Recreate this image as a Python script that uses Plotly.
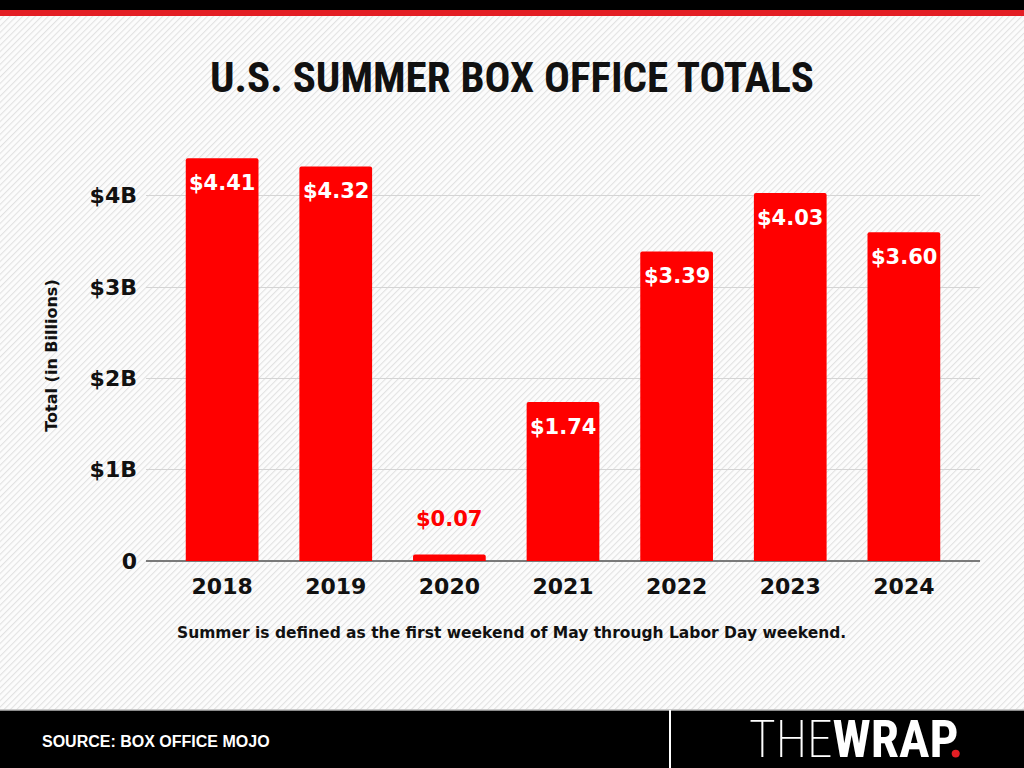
"""U.S. summer box office totals, TheWrap style bar chart"""

import base64
import plotly.graph_objects as go

# data
years = ["2018", "2019", "2020", "2021", "2022", "2023", "2024"]
totals = [4.41, 4.32, 0.07, 1.74, 3.39, 4.03, 3.60]
labels = ["$4.41", "$4.32", "$0.07", "$1.74", "$3.39", "$4.03", "$3.60"]
tick_vals = [0, 1, 2, 3, 4]
tick_text = ["0", "$1B", "$2B", "$3B", "$4B"]

TITLE = "U.S. SUMMER BOX OFFICE TOTALS"
NOTE = "Summer is defined as the first weekend of May through Labor Day weekend."
SOURCE = "SOURCE: BOX OFFICE MOJO"

RED = "#ff0000"
W, H = 1024, 768
M_L, M_R, M_T, M_B = 146, 44, 150, 207
PLOT_W = W - M_L - M_R
PLOT_H = H - M_T - M_B
NARROW = "Roboto Condensed, Liberation Sans Narrow, DejaVu Sans Condensed"


def px_x(x):
    """Page pixel -> paper x"""
    return (x - M_L) / PLOT_W


def px_y(y):
    """Page pixel -> paper y"""
    return (H - M_B - y) / PLOT_H


# striped background as an inline svg
svg = (
    '<svg xmlns="http://www.w3.org/2000/svg" width="1024" height="768">'
    '<defs><pattern id="p" width="4.5" height="4.5" patternUnits="userSpaceOnUse" '
    'patternTransform="rotate(45)"><rect width="4.5" height="4.5" fill="#fcfcfc"/>'
    '<line x1="0" y1="0" x2="0" y2="4.5" stroke="#e2e2e2" stroke-width="2.2"/>'
    '</pattern></defs><rect width="1024" height="768" fill="url(#p)"/></svg>'
)
bg_src = "data:image/svg+xml;base64," + base64.b64encode(svg.encode()).decode()

fig = go.Figure(go.Bar(
    x=years,
    y=totals,
    width=0.64,
    marker=dict(color=RED, line=dict(width=0), cornerradius=2),
    hoverinfo="skip",
))

# value labels: inside top of the bar, or above it (in red) when too short
# (category axis -> annotations take the category index)
for i, (val, lab) in enumerate(zip(totals, labels)):
    inside = val > 0.5
    fig.add_annotation(
        x=i, y=val, text=lab, showarrow=False,
        yanchor="top" if inside else "bottom",
        yshift=-11 if inside else 22,
        font=dict(family="DejaVu Sans", size=21, weight="bold",
                  color="white" if inside else RED),
    )

# title, note, footer texts
fig.add_annotation(
    x=px_x(512), y=px_y(77), xref="paper", yref="paper", xanchor="center",
    yanchor="middle", showarrow=False, text=TITLE,
    font=dict(family=NARROW, size=43, weight="bold", color="#111111"),
)
fig.add_annotation(
    x=px_x(511), y=px_y(633), xref="paper", yref="paper", xanchor="center",
    yanchor="middle", showarrow=False, text=NOTE,
    font=dict(family="DejaVu Sans", size=15.5, weight="bold", color="#111111"),
)
fig.add_annotation(
    x=px_x(40), y=px_y(741), xref="paper", yref="paper", xanchor="left",
    yanchor="middle", showarrow=False, text=SOURCE,
    font=dict(family="Liberation Sans", size=16, weight="bold", color="white"),
)
fig.add_annotation(
    x=px_x(747), y=px_y(739), xref="paper", yref="paper", xanchor="left",
    yanchor="middle", showarrow=False,
    text=("<span style='font-weight:200'>THE</span><b>WRAP</b>"
          "<span style='color:#e31e24'><b>.</b></span>"),
    font=dict(family=NARROW, size=51, color="white"),
)

# page decorations: top bars and footer
fig.add_shape(type="rect", xref="paper", yref="paper", layer="above",
              x0=px_x(0), x1=px_x(W), y0=px_y(0), y1=px_y(10),
              fillcolor="black", line=dict(width=0))
fig.add_shape(type="rect", xref="paper", yref="paper", layer="above",
              x0=px_x(0), x1=px_x(W), y0=px_y(10), y1=px_y(16),
              fillcolor="#e31e24", line=dict(width=0))
fig.add_shape(type="rect", xref="paper", yref="paper", layer="above",
              x0=px_x(0), x1=px_x(W), y0=px_y(710), y1=px_y(H),
              fillcolor="black", line=dict(width=0))
fig.add_shape(type="line", xref="paper", yref="paper", layer="above",
              x0=px_x(0), x1=px_x(W), y0=px_y(710), y1=px_y(710),
              line=dict(color="#bbbbbb", width=1.5))
fig.add_shape(type="line", xref="paper", yref="paper", layer="above",
              x0=px_x(670), x1=px_x(670), y0=px_y(710), y1=px_y(H),
              line=dict(color="white", width=2))

fig.add_layout_image(
    source=bg_src, xref="paper", yref="paper",
    x=px_x(0), y=px_y(0), sizex=W / PLOT_W, sizey=H / PLOT_H,
    xanchor="left", yanchor="top", sizing="stretch", layer="below",
)

fig.update_layout(
    width=W, height=H,
    margin=dict(l=M_L, r=M_R, t=M_T, b=M_B),
    paper_bgcolor="white",
    plot_bgcolor="rgba(0,0,0,0)",
    showlegend=False,
    xaxis=dict(
        type="category",
        range=[-0.67, 6.67],
        showgrid=False, showline=False, zeroline=False,
        ticks="", ticklabelstandoff=10,
        tickfont=dict(family="DejaVu Sans", size=22, weight="bold", color="#111111"),
    ),
    yaxis=dict(
        range=[0, 4.5],
        tickvals=tick_vals, ticktext=tick_text,
        showgrid=True, gridcolor="#d4d4d4", gridwidth=1,
        zeroline=True, zerolinecolor="#7a7a7a", zerolinewidth=2,
        showline=False, ticks="", ticklabelstandoff=8,
        tickfont=dict(family="DejaVu Sans", size=22, weight="bold", color="#111111"),
        title=dict(text="Total (in Billions)", standoff=28,
                   font=dict(family="DejaVu Sans", size=16, weight="bold",
                             color="#111111")),
    ),
)

# the page should start at the window's corner
fig.write_html("out.html", config={"displayModeBar": False},
               post_script="document.body.style.margin='0';")
